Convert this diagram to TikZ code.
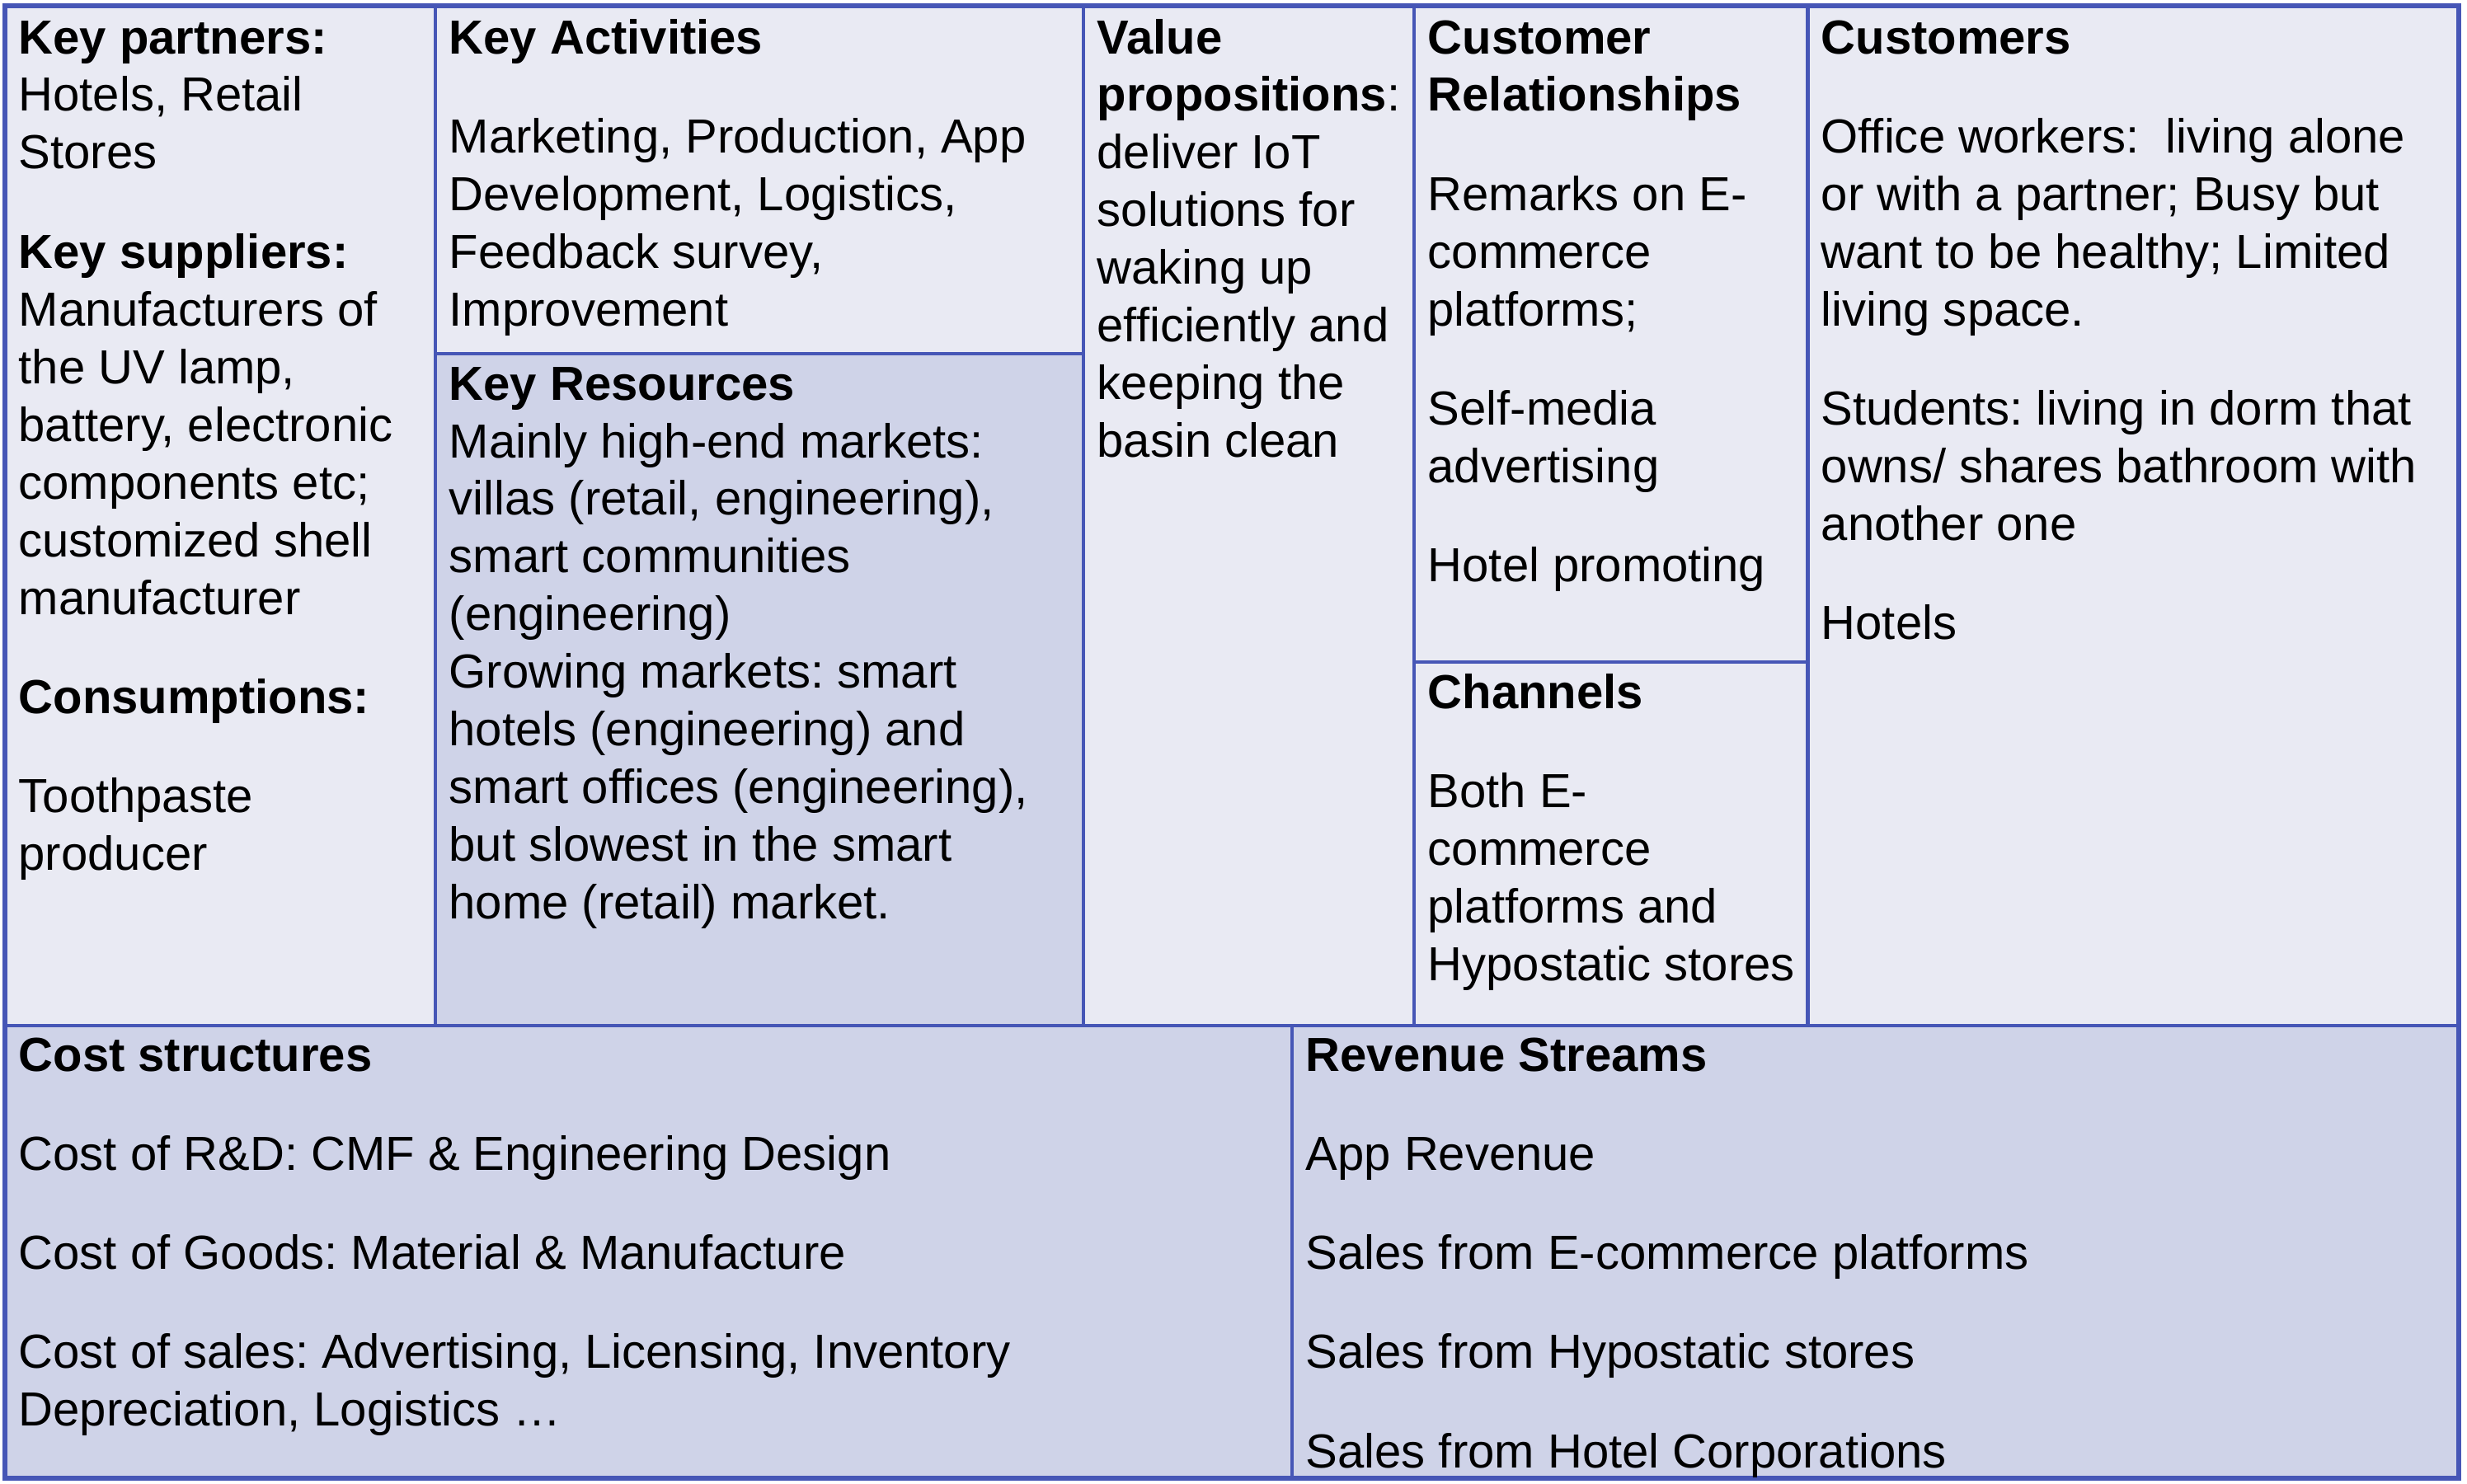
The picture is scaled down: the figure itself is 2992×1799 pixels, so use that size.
\documentclass[tikz,border=0pt]{standalone}
\usepackage{fontspec}
\setmainfont{Liberation Sans}
\definecolor{bmcborder}{RGB}{70,86,182}
\definecolor{bmclight}{RGB}{233,234,243}
\definecolor{bmcdark}{RGB}{207,211,232}
\newcommand{\rowtxt}[1]{\hbox{#1}}
\newcommand{\gapv}{\vskip 14.3pt}
\begin{document}
\frenchspacing
\begin{tikzpicture}[x=0.01cm,y=-0.01cm,
  cellbox/.style={draw=bmcborder, line width=1.4pt},
  lightcell/.style={cellbox, fill=bmclight},
  darkcell/.style={cellbox, fill=bmcdark},
  outerbox/.style={draw=bmcborder, line width=1.7pt},
  txt/.style={anchor=base west, inner sep=0pt, font=\fontsize{16.5pt}{19.9pt}\selectfont\frenchspacing}]
\useasboundingbox (0,0) rectangle (2992,1799);
% cells
\path[lightcell] (6,7) rectangle (528,1244);
\path[lightcell] (528,7) rectangle (1314,429);
\path[darkcell]  (528,429) rectangle (1314,1244);
\path[lightcell] (1314,7) rectangle (1715,1244);
\path[lightcell] (1715,7) rectangle (2192,803);
\path[lightcell] (1715,803) rectangle (2192,1244);
\path[lightcell] (2192,7) rectangle (2982,1244);
\path[darkcell]  (6,1244) rectangle (1567,1793);
\path[darkcell]  (1567,1244) rectangle (2982,1793);
\path[outerbox] (6,7) rectangle (2982,1793);
% texts
\node[txt] (kp) at (22,65) {\vtop{%
\rowtxt{\textbf{Key partners:}}
\rowtxt{Hotels, Retail}
\rowtxt{Stores}
\gapv
\rowtxt{\textbf{Key suppliers:}}
\rowtxt{Manufacturers of}
\rowtxt{the UV lamp,}
\rowtxt{battery, electronic}
\rowtxt{components etc;}
\rowtxt{customized shell}
\rowtxt{manufacturer}
\gapv
\rowtxt{\textbf{Consumptions:}}
\gapv
\rowtxt{Toothpaste}
\rowtxt{producer}}};
\node[txt] (ka) at (544,65) {\vtop{%
\rowtxt{\textbf{Key Activities}}
\gapv
\rowtxt{Marketing, Production, App}
\rowtxt{Development, Logistics,}
\rowtxt{Feedback survey,}
\rowtxt{Improvement}}};
\node[txt] (kr) at (544,485) {\vtop{%
\rowtxt{\textbf{Key Resources}}
\rowtxt{Mainly high-end markets:}
\rowtxt{villas (retail, engineering),}
\rowtxt{smart communities}
\rowtxt{(engineering)}
\rowtxt{Growing markets: smart}
\rowtxt{hotels (engineering) and}
\rowtxt{smart offices (engineering),}
\rowtxt{but slowest in the smart}
\rowtxt{home (retail) market.}}};
\node[txt] (vp) at (1330,65) {\vtop{%
\rowtxt{\textbf{Value}}
\rowtxt{\textbf{propositions}:}
\rowtxt{deliver IoT}
\rowtxt{solutions for}
\rowtxt{waking up}
\rowtxt{efficiently and}
\rowtxt{keeping the}
\rowtxt{basin clean}}};
\node[txt] (cr) at (1731,65) {\vtop{%
\rowtxt{\textbf{Customer}}
\rowtxt{\textbf{Relationships}}
\gapv
\rowtxt{Remarks on E-}
\rowtxt{commerce}
\rowtxt{platforms;}
\gapv
\rowtxt{Self-media}
\rowtxt{advertising}
\gapv
\rowtxt{Hotel promoting}}};
\node[txt] (ch) at (1731,859) {\vtop{%
\rowtxt{\textbf{Channels}}
\gapv
\rowtxt{Both E-}
\rowtxt{commerce}
\rowtxt{platforms and}
\rowtxt{Hypostatic stores}}};
\node[txt] (cs) at (2208,65) {\vtop{%
\rowtxt{\textbf{Customers}}
\gapv
\rowtxt{Office workers:\ \ living alone}
\rowtxt{or with a partner; Busy but}
\rowtxt{want to be healthy; Limited}
\rowtxt{living space.}
\gapv
\rowtxt{Students: living in dorm that}
\rowtxt{owns/ shares bathroom with}
\rowtxt{another one}
\gapv
\rowtxt{Hotels}}};
\node[txt] (cost) at (22,1299) {\vtop{%
\rowtxt{\textbf{Cost structures}}
\gapv
\rowtxt{Cost of R\&D: CMF \& Engineering Design}
\gapv
\rowtxt{Cost of Goods: Material \& Manufacture}
\gapv
\rowtxt{Cost of sales: Advertising, Licensing, Inventory}
\rowtxt{Depreciation, Logistics …}}};
\node[txt] (rev) at (1583,1299) {\vtop{%
\rowtxt{\textbf{Revenue Streams}}
\gapv
\rowtxt{App Revenue}
\gapv
\rowtxt{Sales from E-commerce platforms}
\gapv
\rowtxt{Sales from Hypostatic stores}
\gapv
\rowtxt{Sales from Hotel Corporations}}};
\end{tikzpicture}
\end{document}
